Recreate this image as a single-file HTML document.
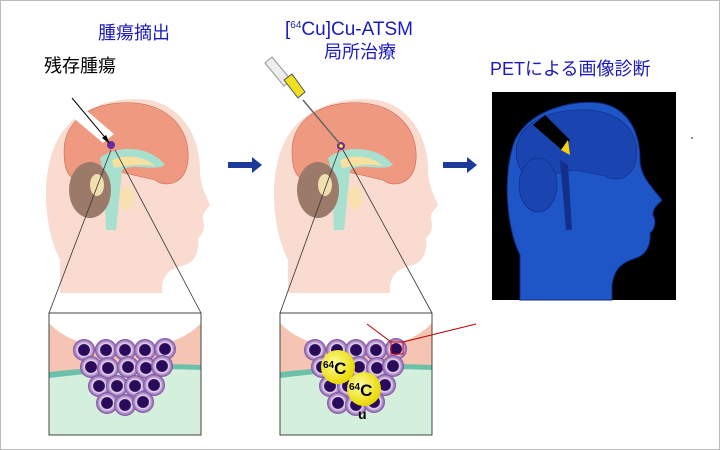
<!DOCTYPE html>
<html><head><meta charset="utf-8"><style>
html,body{margin:0;padding:0;background:#fff}
svg{display:block}
text{font-family:"Liberation Sans","Noto Sans CJK JP",sans-serif}
</style></head><body>
<svg width="720" height="450" viewBox="0 0 720 450" xmlns="http://www.w3.org/2000/svg">
<defs>
<radialGradient id="cell" cx="0.5" cy="0.5" r="0.5"><stop offset="0.5" stop-color="#2a0a5a"/><stop offset="0.58" stop-color="#e8d8f0"/><stop offset="1" stop-color="#7a4aa0"/></radialGradient>
<radialGradient id="cu" cx="0.4" cy="0.4" r="0.6"><stop offset="0" stop-color="#ffffa0"/><stop offset="1" stop-color="#e8d800"/></radialGradient>
<clipPath id="hc"><rect x="0" y="0" width="720" height="293"/></clipPath>
<g id="head">
<path d="M60,300 L60,260 C45,230 40,180 55,145 C70,110 110,95 150,100 C185,108 200,140 200,170 C200,185 206,195 210,205 C207,210 202,212 203,220 C206,228 202,235 198,238 C200,250 195,262 185,265 C175,268 165,270 162,285 L162,300 Z" fill="#f9dbd0"/>
<path d="M64,150 C65,115 100,100 135,103 C170,106 190,130 188,160 C186,185 165,188 155,180 L120,172 C100,175 90,185 75,180 C66,175 64,165 64,150Z" fill="#ef9a80" stroke="#c86a55" stroke-width="0.6"/>
<path d="M100,158 C115,145 150,145 165,165 C152,172 135,162 122,170 L116,230 L106,230 L104,175Z" fill="#a8e0d0"/>
<path d="M112,160 C125,154 145,156 155,166 C140,163 125,166 114,168Z" fill="#f8e0a0"/>
<ellipse cx="90" cy="190" rx="21" ry="28" fill="#9c7a6a"/>
<ellipse cx="97" cy="185" rx="7" ry="11" fill="#f0e0b0"/>
<ellipse cx="127" cy="198" rx="7" ry="12" fill="#f8e0b0"/>
</g>
<g id="cells">
<circle cx="84" cy="350" r="11" fill="url(#cell)"/><circle cx="106" cy="350" r="11" fill="url(#cell)"/><circle cx="125" cy="350" r="11" fill="url(#cell)"/><circle cx="145" cy="350" r="11" fill="url(#cell)"/><circle cx="165" cy="349" r="11" fill="url(#cell)"/>
<circle cx="91" cy="367" r="11" fill="url(#cell)"/><circle cx="108" cy="368" r="11" fill="url(#cell)"/><circle cx="128" cy="367" r="11" fill="url(#cell)"/><circle cx="146" cy="368" r="11" fill="url(#cell)"/><circle cx="162" cy="366" r="11" fill="url(#cell)"/>
<circle cx="99" cy="386" r="11" fill="url(#cell)"/><circle cx="117" cy="386" r="11" fill="url(#cell)"/><circle cx="135" cy="386" r="11" fill="url(#cell)"/><circle cx="154" cy="385" r="11" fill="url(#cell)"/>
<circle cx="107" cy="403" r="11" fill="url(#cell)"/><circle cx="125" cy="405" r="11" fill="url(#cell)"/><circle cx="143" cy="402" r="11" fill="url(#cell)"/>
</g>
<g id="box">
<rect x="49" y="313" width="152" height="122" fill="#d4efdc"/>
<path d="M49,313 H201 V368 L49,373Z" fill="#f6c4b2"/>
<path d="M49,372 C90,368 150,362 201,365 V370 C150,367 90,373 49,378Z" fill="#6ac0a8"/>
<path d="M49,313 H201 V323 C180,345 150,348 125,348 C100,348 70,345 49,323Z" fill="#fff"/>
</g>
</defs>
<rect x="0.5" y="0.5" width="719" height="449" fill="#fff" stroke="#bbb"/>
<!-- panel 1 -->
<use href="#head" clip-path="url(#hc)"/>
<polygon points="70,115 103,143 114,134 80,105" fill="#fff"/>
<circle cx="111" cy="145" r="4" fill="#6a2aa0"/>
<line x1="72" y1="98" x2="108" y2="141" stroke="#000" stroke-width="1"/>
<polygon points="110,144 102,138 106,135" fill="#000"/>
<line x1="111" y1="150" x2="49" y2="313" stroke="#333" stroke-width="0.8"/>
<line x1="115" y1="150" x2="201" y2="313" stroke="#333" stroke-width="0.8"/>
<use href="#box"/>
<use href="#cells"/>
<rect x="49" y="313" width="152" height="122" fill="none" stroke="#444" stroke-width="1"/>
<!-- panel 2 -->
<g transform="translate(228,0)"><use href="#head" clip-path="url(#hc)"/></g>
<circle cx="341" cy="146" r="4" fill="#6a2aa0"/><circle cx="341" cy="146" r="1.8" fill="#ff0"/>
<line x1="303" y1="100" x2="340" y2="144" stroke="#666" stroke-width="1.5"/>
<polygon points="265,63 272,57 291,80 284,86" fill="#eee" stroke="#999"/>
<polygon points="284,80 292,74 305,92 298,98" fill="#f0e020" stroke="#555"/>
<line x1="339" y1="150" x2="280" y2="313" stroke="#333" stroke-width="0.8"/>
<line x1="343" y1="150" x2="432" y2="313" stroke="#333" stroke-width="0.8"/>
<use href="#box" x="231"/>
<use href="#cells" x="231"/>
<circle cx="338" cy="367" r="17" fill="url(#cu)"/>
<text x="323" y="374" font-size="17" font-weight="bold"><tspan font-size="10" dy="-6">64</tspan><tspan dy="6">C</tspan></text>
<circle cx="364" cy="389" r="17" fill="url(#cu)"/>
<text x="349" y="396" font-size="17" font-weight="bold"><tspan font-size="10" dy="-6">64</tspan><tspan dy="6">C</tspan></text>
<text x="358" y="419" font-size="14" font-weight="bold">u</text>
<rect x="391" y="342" width="12" height="12" fill="none" stroke="#d00"/>
<line x1="367" y1="324" x2="391" y2="342" stroke="#b00"/>
<line x1="403" y1="342" x2="476" y2="324" stroke="#b00"/>
<rect x="280" y="313" width="152" height="122" fill="none" stroke="#444" stroke-width="1"/>
<!-- arrows -->
<polygon points="228,162 252,162 252,157 262,165 252,173 252,168 228,168" fill="#1c3a9a"/>
<polygon points="443,162 467,162 467,157 477,165 467,173 467,168 443,168" fill="#1c3a9a"/>
<!-- PET -->
<rect x="492" y="92" width="184" height="208" fill="#000"/>
<path d="M520,300 L520,255 C505,225 503,170 515,140 C530,110 570,100 600,103 C630,108 640,135 640,160 C640,175 650,185 662,200 C658,205 653,207 653,215 C657,222 654,230 650,233 C651,245 646,255 636,258 C625,262 615,265 612,285 L612,300Z" fill="#1e56c8" stroke="#102a80" stroke-width="1"/>
<path d="M516,150 C518,120 555,108 590,110 C625,113 640,135 636,160 C632,180 615,182 605,176 L575,170 C555,172 545,180 530,176 C520,172 516,165 516,150Z" fill="#1a44b0" stroke="#0e2a80" stroke-width="0.6"/>
<ellipse cx="538" cy="185" rx="19" ry="27" fill="#1a44b0" stroke="#0e2a80" stroke-width="0.6"/>
<path d="M560,160 L566,230 L572,230 L568,165Z" fill="#12308a"/>
<polygon points="533,125 545,115 570,140 562,150" fill="#000"/>
<path d="M561,150 L568,140 L570,155Z" fill="#ffd000"/>
<circle cx="692" cy="138" r="0.8" fill="#000"/>
<!-- texts -->
<text x="98" y="39" font-size="18" fill="#1a1abf">腫瘍摘出</text>
<text x="44" y="72" font-size="18" fill="#000">残存腫瘍</text>
<text x="285" y="35" font-size="19" fill="#1a1abf">[<tspan font-size="10" dy="-7">64</tspan><tspan dy="7">Cu]Cu-ATSM</tspan></text>
<text x="324" y="58" font-size="18" fill="#1a1abf">局所治療</text>
<text x="490" y="75" font-size="18" fill="#1a1abf">PETによる画像診断</text>
</svg>
</body></html>
